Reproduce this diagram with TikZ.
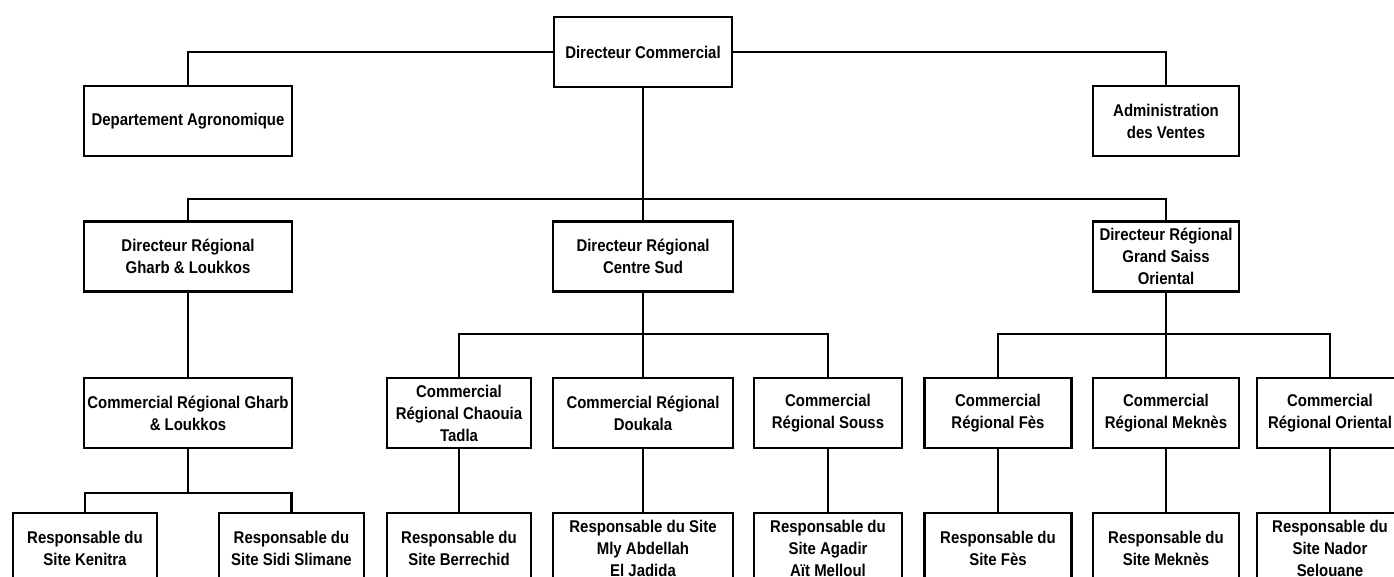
\documentclass[tikz,border=0pt]{standalone}
\usepackage{fontspec}
\setmainfont{Liberation Sans}[FakeStretch=0.88]
\begin{document}
\begin{tikzpicture}[x=1pt,y=-1pt,
  box/.style={draw, line width=2.4pt, minimum height=70pt, inner sep=0pt, align=center,
    font=\fontsize{17}{22}\selectfont\bfseries},
  conn/.style={line width=2.4pt}]
\useasboundingbox (0,0) rectangle (1394,577);
\clip (0,0) rectangle (1394,577);
% level 0 and staff
\node[box, minimum width=178pt] (dc) at (643,52) {Directeur Commercial};
\node[box, minimum width=208pt] (dept) at (188,121) {Departement Agronomique};
\node[box, minimum width=146pt] (admin) at (1166,121) {Administration\\des Ventes};
% regional directors
\node[box, minimum width=208pt] (drg) at (188,256.5) {Directeur Régional\\Gharb \& Loukkos};
\node[box, minimum width=180pt] (drcs) at (643,256.5) {Directeur Régional\\Centre Sud};
\node[box, minimum width=146pt] (drgs) at (1166,256.5) {Directeur Régional\\Grand Saiss\\Oriental};
% commercials
\node[box, minimum width=208pt] (cg) at (188,413) {Commercial Régional Gharb\\\& Loukkos};
\node[box, minimum width=144pt] (cct) at (459,413) {Commercial\\Régional Chaouia\\Tadla};
\node[box, minimum width=180pt] (cdk) at (643,413) {Commercial Régional\\Doukala};
\node[box, minimum width=148pt] (cso) at (828,413) {Commercial\\Régional Souss};
\node[box, minimum width=147pt] (cfe) at (998,413) {Commercial\\Régional Fès};
\node[box, minimum width=146pt] (cme) at (1166,413) {Commercial\\Régional Meknès};
\node[box, minimum width=146pt] (cor) at (1330,413) {Commercial\\Régional Oriental};
% site managers
\node[box, minimum width=144pt] (rk) at (85,548) {Responsable du\\Site Kenitra};
\node[box, minimum width=145pt] (rss) at (291.5,548) {Responsable du\\Site Sidi Slimane};
\node[box, minimum width=144pt] (rb) at (459,548) {Responsable du\\Site Berrechid};
\node[box, minimum width=180pt] (rm) at (643,548) {Responsable du Site\\Mly Abdellah\\El Jadida};
\node[box, minimum width=148pt] (ra) at (828,548) {Responsable du\\Site Agadir\\Aït Melloul};
\node[box, minimum width=147pt] (rf) at (998,548) {Responsable du\\Site Fès};
\node[box, minimum width=146pt] (rme) at (1166,548) {Responsable du\\Site Meknès};
\node[box, minimum width=146pt] (rn) at (1330,548) {Responsable du\\Site Nador\\Selouane};
% branch points
\coordinate (b1) at (643,199);
\coordinate (b2) at (643,334);
\coordinate (b3) at (1166,334);
\coordinate (b4) at (188,493);
% connectors
\draw[conn] (dc.west) -| (dept.north);
\draw[conn] (dc.east) -| (admin.north);
\draw[conn] (dc.south) -- (b1);
\draw[conn] (drg.north) |- (b1) -| (drgs.north);
\draw[conn] (b1) -- (drcs.north);
\draw[conn] (drg.south) -- (cg.north);
\draw[conn] (drcs.south) -- (cdk.north);
\draw[conn] (cct.north) |- (b2) -| (cso.north);
\draw[conn] (drgs.south) -- (cme.north);
\draw[conn] (cfe.north) |- (b3) -| (cor.north);
\draw[conn] (cg.south) -- (b4);
\draw[conn] (rk.north) |- (b4) -| (rss.north);
\draw[conn] (cct.south) -- (rb.north);
\draw[conn] (cdk.south) -- (rm.north);
\draw[conn] (cso.south) -- (ra.north);
\draw[conn] (cfe.south) -- (rf.north);
\draw[conn] (cme.south) -- (rme.north);
\draw[conn] (cor.south) -- (rn.north);
\end{tikzpicture}
\end{document}
